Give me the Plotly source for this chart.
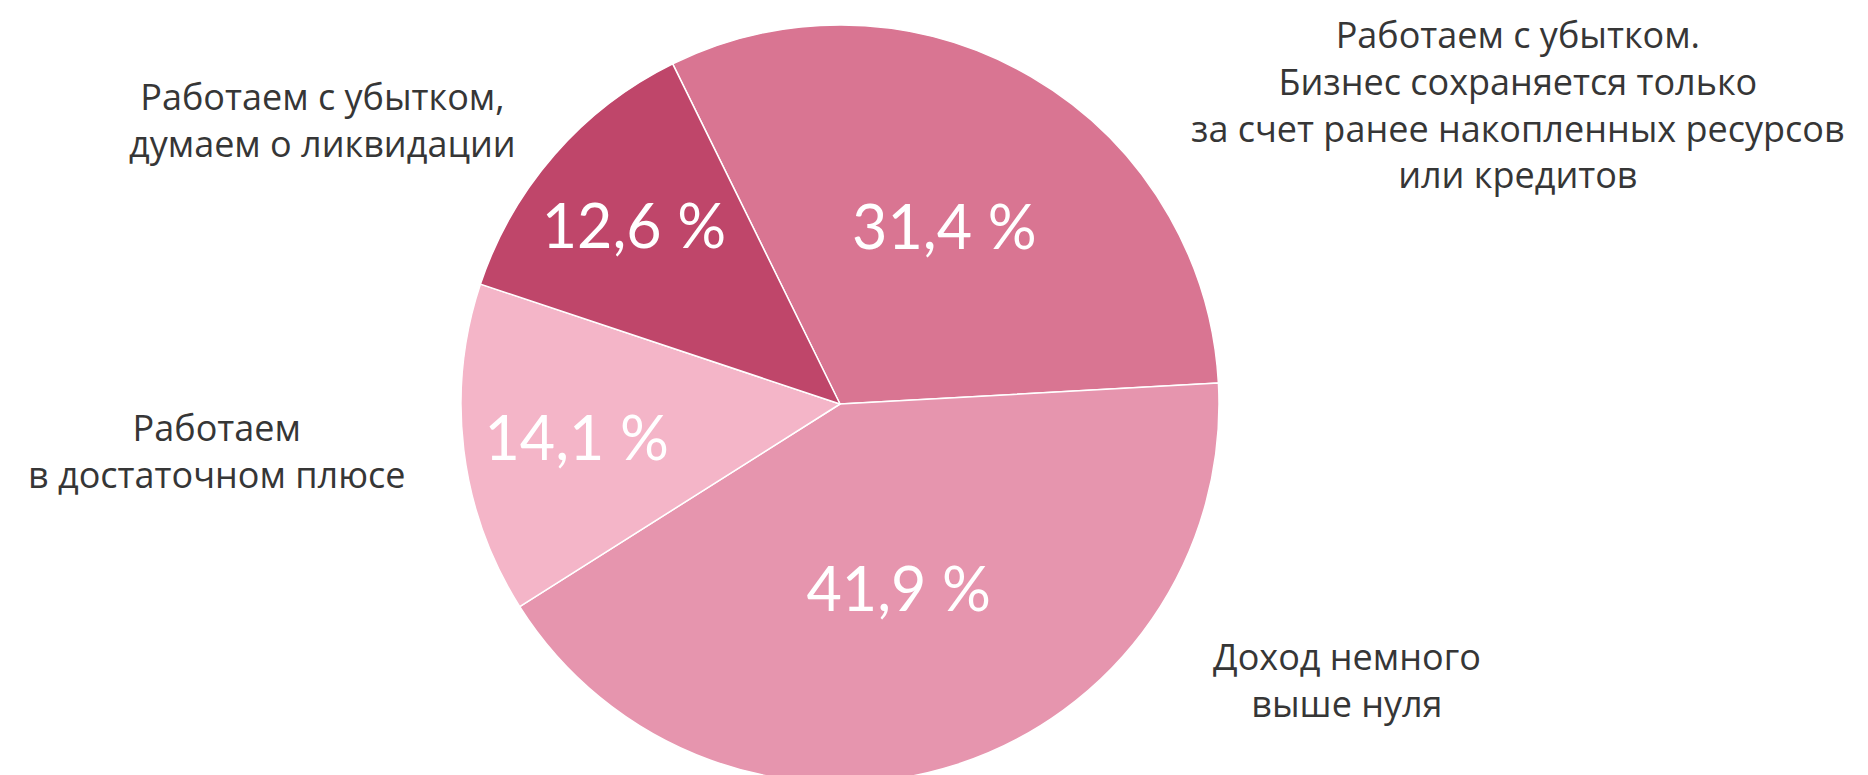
import plotly.graph_objects as go

# --- data ---
categories = [
    "Работаем с убытком.<br>Бизнес сохраняется только<br>за счет ранее накопленных ресурсов<br>или кредитов",
    "Доход немного<br>выше нуля",
    "Работаем<br>в достаточном плюсе",
    "Работаем с убытком,<br>думаем о ликвидации",
]
values = [31.4, 41.9, 14.1, 12.6]
colors = ["#D97592", "#E695AE", "#F4B5C8", "#BF466A"]

pct_text = [f"{v:.1f}".replace(".", ",") + " %" for v in values]

W, H = 1868, 775
CX, TOP = 832, 17
R = (H - TOP) / 2

fig = go.Figure(
    go.Pie(
        labels=categories,
        values=values,
        text=pct_text,
        textinfo="text",
        textposition="inside",
        insidetextorientation="horizontal",
        sort=False,
        direction="clockwise",
        rotation=-26.2,
        marker=dict(colors=colors, line=dict(color="white", width=1.5)),
        textfont=dict(family="Lato", size=61, color="white", weight=400),
        domain=dict(x=[(CX - R) / W, (CX + R) / W], y=[0, 1 - TOP / H]),
        showlegend=False,
        hoverinfo="label+text",
    )
)

# outside category labels (pixel anchor positions, centre of block)
label_pos = [(1510, 96), (1339, 672), (208, 443), (314, 112)]
for lab, (px, py) in zip(categories, label_pos):
    fig.add_annotation(
        x=px / W, y=1 - py / H, xref="paper", yref="paper",
        text=lab, showarrow=False, xanchor="center", yanchor="middle",
        align="center",
        font=dict(family="Open Sans", size=36, color="#363636"),
    )

fig.update_layout(
    width=W, height=H,
    margin=dict(l=0, r=0, t=0, b=0),
    paper_bgcolor="white", plot_bgcolor="white",
    uniformtext=dict(minsize=61, mode="show"),
)

fig.write_html("out.html")
